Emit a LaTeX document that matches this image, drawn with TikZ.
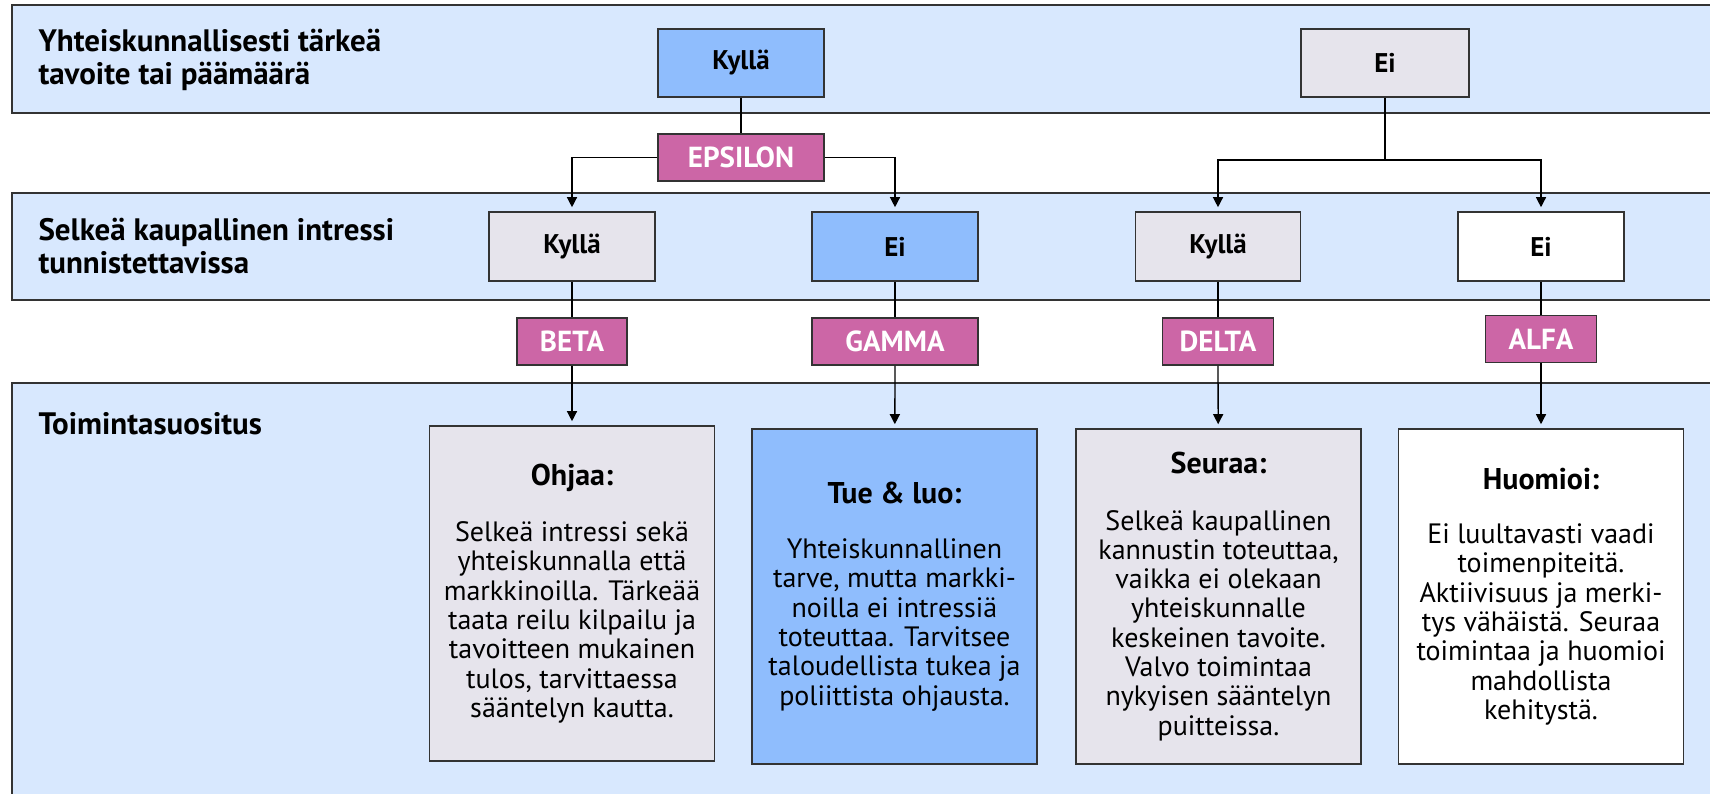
\documentclass[tikz,border=0pt]{standalone}
\usepackage{fontspec}
\setmainfont{PT Sans}
\usetikzlibrary{arrows.meta}
\definecolor{bandc}{HTML}{D8E8FE}
\definecolor{bluec}{HTML}{8FBDFD}
\definecolor{greyc}{HTML}{E6E4EC}
\definecolor{magc}{HTML}{CC66A6}
\definecolor{linec}{HTML}{333333}
\tikzset{
  band/.style={fill=bandc, draw=linec, line width=1.5pt},
  box/.style={draw=linec, line width=1.6pt, inner sep=0pt, font=\fontsize{27}{30}\selectfont\bfseries},
  lab/.style={box, fill=magc, text=white, minimum height=47, font=\fontsize{29}{30}\selectfont\bfseries},
  bigbox/.style={draw=linec, line width=1.6pt, inner sep=0pt, minimum width=285, minimum height=335, align=center, font=\fontsize{28}{29.3}\selectfont},
  hdr/.style={anchor=west, align=left, font=\fontsize{31}{33}\selectfont\bfseries},
  conn/.style={draw=black, line width=1.3pt},
  arr/.style={conn, -{Triangle[length=10pt,width=10pt]}, shorten >=4pt}
}
\newcommand{\ttl}[1]{{\fontsize{30}{29.3}\selectfont\bfseries #1}}
\begin{document}
\begin{tikzpicture}[x=1pt,y=-1pt]
\useasboundingbox (0,0) rectangle (1710,794);
\clip (0,0) rectangle (1710,794);
\fill[white] (0,0) rectangle (1710,794);
% bands
\draw[band] (12,5) rectangle (1730,113);
\draw[band] (12,193) rectangle (1730,300);
\draw[band] (12,383) rectangle (1730,820);
% headers
\node[hdr] (h1) at (35,60) {Yhteiskunnallisesti tärkeä\\tavoite tai päämäärä};
\node[hdr] (h2) at (35,246) {Selkeä kaupallinen intressi\\tunnistettavissa};
\node[hdr] (h3) at (35,424) {Toimintasuositus};
% top row
\node[box, fill=bluec, minimum width=166, minimum height=68] (k0) at (741,63) {Kyllä};
\node[box, fill=greyc, minimum width=168, minimum height=68] (e0) at (1385,63) {Ei};
\node[lab, minimum width=166] (eps) at (741,157.5) {EPSILON};
% middle row
\node[box, fill=greyc, minimum width=166, minimum height=69] (k1) at (572,246.5) {Kyllä};
\node[box, fill=bluec, minimum width=166, minimum height=69] (e1) at (895,246.5) {Ei};
\node[box, fill=greyc, minimum width=165, minimum height=69] (k2) at (1218,246.5) {Kyllä};
\node[box, fill=white, minimum width=166, minimum height=69] (e2) at (1541,246.5) {Ei};
% labels
\node[lab, minimum width=110] (beta) at (572,341.5) {BETA};
\node[lab, minimum width=166] (gamma) at (895,341.5) {GAMMA};
\node[lab, minimum width=111] (delta) at (1218,341.5) {DELTA};
\node[lab, minimum width=111] (alfa) at (1541,339) {ALFA};
% recommendation boxes
\node[bigbox, fill=greyc] (ohj) at (572,593.5) {\ttl{Ohjaa:}\\[27pt]Selkeä intressi sekä\\yhteiskunnalla että\\markkinoilla. Tärkeää\\taata reilu kilpailu ja\\tavoitteen mukainen\\tulos, tarvittaessa\\sääntelyn kautta.};
\node[bigbox, fill=bluec] (tue) at (894.5,596.5) {\ttl{Tue \& luo:}\\[26pt]Yhteiskunnallinen\\tarve, mutta markki-\\noilla ei intressiä\\toteuttaa. Tarvitsee\\taloudellista tukea ja\\poliittista ohjausta.};
\node[bigbox, fill=greyc] (seu) at (1218.5,596.5) {\ttl{Seuraa:}\\[27pt]Selkeä kaupallinen\\kannustin toteuttaa,\\vaikka ei olekaan\\yhteiskunnalle\\keskeinen tavoite.\\Valvo toimintaa\\nykyisen sääntelyn\\puitteissa.};
\node[bigbox, fill=white] (huo) at (1541,596.5) {\ttl{Huomioi:}\\[25pt]Ei luultavasti vaadi\\toimenpiteitä.\\Aktiivisuus ja merki-\\tys vähäistä. Seuraa\\toimintaa ja huomioi\\mahdollista\\kehitystä.};
% connectors
\draw[conn] (k0) -- (eps);
\draw[arr] (eps.west) -| (k1);
\draw[arr] (eps.east) -| (e1);
\coordinate (split) at (1385,160);
\draw[conn] (e0) -- (split);
\draw[arr] (split) -| (k2);
\draw[arr] (split) -| (e2);
\draw[conn] (k1) -- (beta);
\draw[conn] (e1) -- (gamma);
\draw[conn] (k2) -- (delta);
\draw[conn] (e2) -- (alfa);
\draw[arr] (beta) -- (ohj);
\draw[arr] (gamma) -- (tue);
\draw[arr] (delta) -- (seu);
\draw[arr] (alfa) -- (huo);
\end{tikzpicture}
\end{document}
